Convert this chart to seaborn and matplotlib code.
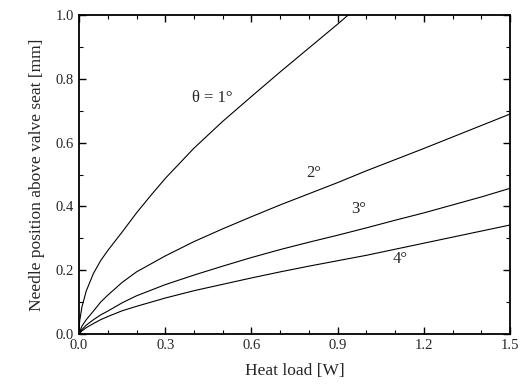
import numpy as np
import pandas as pd
import matplotlib
matplotlib.use("Agg")
import matplotlib.pyplot as plt
from matplotlib.ticker import MultipleLocator, FormatStrFormatter
import seaborn as sns

# heat load [W] and needle position [mm]
heat_1deg = [0.0, 0.002, 0.01, 0.025, 0.05, 0.075, 0.1, 0.15, 0.2, 0.25, 0.3, 0.4, 0.5,
             0.6, 0.7, 0.8, 0.9, 0.936]
pos_1deg = [0.0, 0.04, 0.085, 0.135, 0.19, 0.23, 0.262, 0.32, 0.38, 0.435, 0.488, 0.583,
            0.667, 0.745, 0.822, 0.897, 0.972, 1.0]

heat = [0.0, 0.01, 0.025, 0.05, 0.075, 0.1, 0.15, 0.2, 0.3, 0.4, 0.5, 0.6, 0.7, 0.8, 0.9,
        1.0, 1.1, 1.2, 1.3, 1.4, 1.5]
pos_2deg = [0.0, 0.025, 0.045, 0.072, 0.1, 0.122, 0.162, 0.195, 0.245, 0.29, 0.33, 0.368,
            0.405, 0.44, 0.475, 0.512, 0.547, 0.582, 0.618, 0.654, 0.69]
pos_3deg = [0.0, 0.014, 0.028, 0.045, 0.06, 0.072, 0.098, 0.12, 0.155, 0.185, 0.213, 0.24,
            0.265, 0.288, 0.31, 0.333, 0.357, 0.38, 0.405, 0.43, 0.457]
pos_4deg = [0.0, 0.01, 0.02, 0.033, 0.045, 0.055, 0.073, 0.087, 0.113, 0.136, 0.156, 0.176,
            0.195, 0.213, 0.23, 0.247, 0.266, 0.285, 0.304, 0.323, 0.342]

labels = ["θ = 1°", "2°", "3°", "4°"]
label_xy = [(0.462, 0.739), (0.816, 0.506), (0.972, 0.391), (1.117, 0.235)]

frames = [pd.DataFrame({"heat": heat_1deg, "pos": pos_1deg, "angle": "1"})]
for name, ys in zip(["2", "3", "4"], [pos_2deg, pos_3deg, pos_4deg]):
    frames.append(pd.DataFrame({"heat": heat, "pos": ys, "angle": name}))
df = pd.concat(frames, ignore_index=True)

sns.set_style("ticks")
plt.rcParams["font.family"] = ["Liberation Serif", "DejaVu Serif"]

fig, ax = plt.subplots(figsize=(5.27, 3.88), dpi=100)
fig.subplots_adjust(left=0.150, right=0.968, bottom=0.139, top=0.961)

sns.lineplot(data=df, x="heat", y="pos", hue="angle", palette=["k"] * 4,
             estimator=None, sort=False, legend=False, linewidth=0.8, ax=ax)

for txt, (tx, ty) in zip(labels, label_xy):
    ax.text(tx, ty, txt, fontsize=12, ha="center", va="center")

ax.set_xlim(0, 1.5)
ax.set_ylim(0, 1.0)
ax.xaxis.set_major_locator(MultipleLocator(0.3))
ax.xaxis.set_minor_locator(MultipleLocator(0.1))
ax.yaxis.set_major_locator(MultipleLocator(0.2))
ax.yaxis.set_minor_locator(MultipleLocator(0.1))
ax.xaxis.set_major_formatter(FormatStrFormatter("%.1f"))
ax.yaxis.set_major_formatter(FormatStrFormatter("%.1f"))
ax.tick_params(which="both", direction="in", top=True, right=True, labelsize=10.5, color="k")
ax.tick_params(which="major", length=5, width=1)
ax.tick_params(which="minor", length=3, width=0.8)
for s in ax.spines.values():
    s.set_linewidth(1.3)
    s.set_color("k")

ax.set_xlabel("Heat load [W]", fontsize=12.5, labelpad=8)
ax.set_ylabel("Needle position above valve seat [mm]", fontsize=12.5, labelpad=8)

plt.savefig("out.png", dpi=100)
